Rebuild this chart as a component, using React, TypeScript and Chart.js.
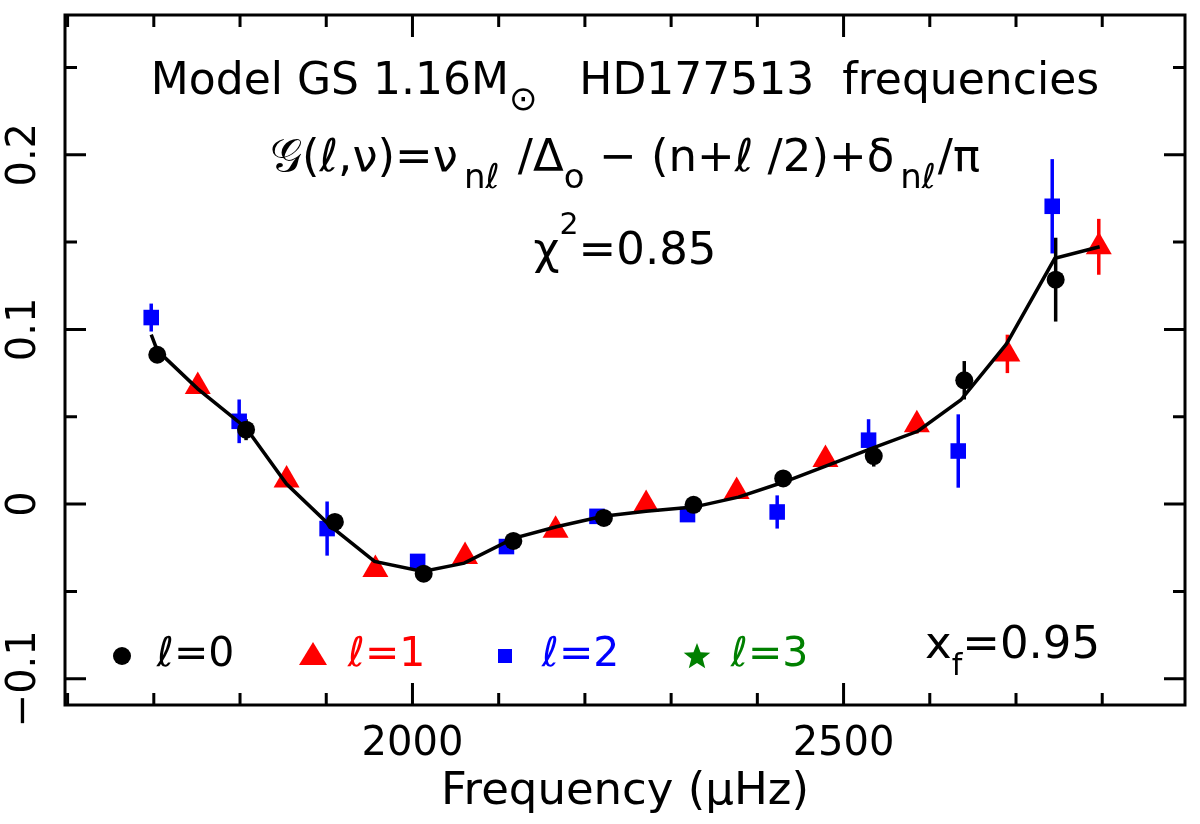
import { useEffect, useRef } from 'react';
import { Chart, registerables } from 'chart.js';

Chart.register(...registerables);

const FONT = '"DejaVu Sans", "DejaVu Serif", sans-serif';

// l = 0 modes (black circles)
const freqL0 = [1704, 1807, 1910, 2013, 2117, 2222, 2326, 2430, 2535, 2640, 2746];
const gL0 = [0.0855, 0.0426, -0.0102, -0.0398, -0.0211, -0.0079, -0.0004, 0.0147, 0.0275, 0.0709, 0.1285];
const errL0 = [0.003, 0.006, 0.004, 0.003, 0.003, 0.003, 0.003, 0.003, 0.006, 0.011, 0.024];

// l = 1 modes (red triangles)
const freqL1 = [1751, 1854, 1957, 2061, 2166, 2271, 2376, 2479, 2585, 2690, 2796];
const gL1 = [0.0673, 0.0138, -0.0375, -0.03, -0.0149, -0.0002, 0.0072, 0.0256, 0.0454, 0.086, 0.1473];
const errL1 = [0.004, 0.003, 0.003, 0.003, 0.003, 0.003, 0.003, 0.004, 0.005, 0.011, 0.016];

// l = 2 modes (blue squares)
const freqL2 = [1697, 1799, 1901, 2006, 2109, 2214, 2319, 2423, 2529, 2633, 2742];
const gL2 = [0.1068, 0.0474, -0.014, -0.0328, -0.0243, -0.007, -0.006, -0.0045, 0.0366, 0.0304, 0.1705];
const errL2 = [0.008, 0.0125, 0.0155, 0.004, 0.003, 0.004, 0.003, 0.0095, 0.012, 0.021, 0.027];

// model curve
const modelFreq = [1697, 1704, 1751, 1807, 1854, 1906, 1956, 2012, 2060, 2117, 2167, 2221, 2271, 2326, 2378, 2430, 2480, 2535, 2586, 2636, 2689, 2745, 2797];
const modelG = [0.097, 0.088, 0.066, 0.0436, 0.0115, -0.013, -0.0328, -0.0385, -0.0338, -0.0196, -0.013, -0.007, -0.0041, -0.0017, 0.004, 0.0125, 0.0219, 0.0323, 0.0417, 0.0596, 0.0917, 0.1407, 0.1473];

// axes
const xLabelTicks = [2000, 2500];
const xMinorTicks = [1600, 1700, 1800, 1900, 2100, 2200, 2300, 2400, 2600, 2700, 2800];
const yLabelTicks = [-0.1, 0, 0.1, 0.2];
const yMinorTicks = [-0.05, 0.05, 0.15, 0.25];

const toPoints = (xs: number[], ys: number[]) => xs.map((x, i) => ({ x, y: ys[i] }));

type Seg = { t: string; size: number; dy?: number; color?: string; gap?: number };

function drawRich(ctx: CanvasRenderingContext2D, segs: Seg[], x0: number, baseline: number, center: boolean) {
  let total = 0;
  segs.forEach((s) => {
    ctx.font = `${s.size}px ${FONT}`;
    total += ctx.measureText(s.t).width + (s.gap ?? 0);
  });
  let x = center ? x0 - total / 2 : x0;
  ctx.textAlign = 'left';
  ctx.textBaseline = 'alphabetic';
  segs.forEach((s) => {
    ctx.font = `${s.size}px ${FONT}`;
    ctx.fillStyle = s.color ?? '#000';
    ctx.fillText(s.t, x, baseline + (s.dy ?? 0));
    x += ctx.measureText(s.t).width + (s.gap ?? 0);
  });
}

const errorBars = {
  id: 'errorBars',
  beforeDatasetsDraw(chart: any) {
    const { ctx, scales: { x, y } } = chart;
    ctx.save();
    chart.data.datasets.forEach((ds: any) => {
      if (!ds.errors) return;
      ctx.strokeStyle = ds.borderColor;
      ctx.lineWidth = 3.5;
      ds.data.forEach((p: any, i: number) => {
        const px = x.getPixelForValue(p.x);
        ctx.beginPath();
        ctx.moveTo(px, y.getPixelForValue(p.y - ds.errors[i]));
        ctx.lineTo(px, y.getPixelForValue(p.y + ds.errors[i]));
        ctx.stroke();
      });
    });
    ctx.restore();
  },
};

const frame = {
  id: 'frame',
  afterDraw(chart: any) {
    const { ctx, chartArea: a, scales: { x, y } } = chart;
    ctx.save();
    ctx.strokeStyle = '#000';
    ctx.lineWidth = 3;
    ctx.strokeRect(a.left, a.top, a.right - a.left, a.bottom - a.top);
    const xt = (v: number, len: number) => {
      const px = x.getPixelForValue(v);
      ctx.moveTo(px, a.bottom);
      ctx.lineTo(px, a.bottom - len);
      ctx.moveTo(px, a.top);
      ctx.lineTo(px, a.top + len);
    };
    const yt = (v: number, len: number) => {
      const py = y.getPixelForValue(v);
      ctx.moveTo(a.left, py);
      ctx.lineTo(a.left + len, py);
      ctx.moveTo(a.right, py);
      ctx.lineTo(a.right - len, py);
    };
    ctx.beginPath();
    xLabelTicks.forEach((v) => xt(v, 22));
    xMinorTicks.forEach((v) => xt(v, 12));
    yLabelTicks.forEach((v) => yt(v, 21));
    yMinorTicks.forEach((v) => yt(v, 12));
    ctx.stroke();
    ctx.restore();
  },
};

const annotations = {
  id: 'annotations',
  afterDraw(chart: any) {
    const { ctx, chartArea: a } = chart;
    const cx = (a.left + a.right) / 2;
    ctx.save();
    drawRich(ctx, [
      { t: 'Model GS 1.16M', size: 44 },
      { t: '\u2299', size: 34, dy: 16 },
      { t: '   HD177513  frequencies', size: 44 },
    ], cx, a.top + 79, true);
    drawRich(ctx, [
      { t: '\u{1D4A2}(\u2113,\u03BD)=\u03BD', size: 45, gap: 6 },
      { t: 'n\u2113', size: 34, dy: 17, gap: 4 },
      { t: ' /\u0394', size: 45 },
      { t: 'o', size: 34, dy: 17 },
      { t: ' \u2212 (n+\u2113 /2)+\u03B4', size: 45, gap: 6 },
      { t: 'n\u2113', size: 34, dy: 17, gap: 2 },
      { t: '/\u03C0', size: 45 },
    ], cx, a.top + 156, true);
    drawRich(ctx, [
      { t: '\u03C7', size: 45 },
      { t: '2', size: 30, dy: -30 },
      { t: '=0.85', size: 45 },
    ], cx, a.top + 249, true);

    // legend row
    const ly = 656;
    ctx.fillStyle = '#000';
    ctx.beginPath();
    ctx.arc(122, ly, 9, 0, Math.PI * 2);
    ctx.fill();
    drawRich(ctx, [{ t: '\u2113=0', size: 41 }], 157, ly + 10, false);

    ctx.fillStyle = '#ff0000';
    ctx.beginPath();
    ctx.moveTo(313, ly - 14);
    ctx.lineTo(327, ly + 9);
    ctx.lineTo(299, ly + 9);
    ctx.closePath();
    ctx.fill();
    drawRich(ctx, [{ t: '\u2113=1', size: 41, color: '#ff0000' }], 348, ly + 10, false);

    ctx.fillStyle = '#0000ff';
    ctx.fillRect(498, ly - 7, 14, 14);
    drawRich(ctx, [{ t: '\u2113=2', size: 41, color: '#0000ff' }], 542, ly + 10, false);

    ctx.fillStyle = '#008000';
    ctx.beginPath();
    for (let i = 0; i < 10; i++) {
      const r = i % 2 === 0 ? 14 : 6;
      const ang = -Math.PI / 2 + (i * Math.PI) / 5;
      const px = 697 + r * Math.cos(ang);
      const py = ly + 1 + r * Math.sin(ang);
      if (i === 0) ctx.moveTo(px, py);
      else ctx.lineTo(px, py);
    }
    ctx.closePath();
    ctx.fill();
    drawRich(ctx, [{ t: '\u2113=3', size: 41, color: '#008000' }], 731, ly + 10, false);

    drawRich(ctx, [
      { t: 'x', size: 45 },
      { t: 'f', size: 30, dy: 17 },
      { t: '=0.95', size: 45 },
    ], 925, 658, false);
    ctx.restore();
  },
};

export default function App() {
  const canvasRef = useRef<HTMLCanvasElement>(null);
  const chartRef = useRef<Chart | null>(null);

  useEffect(() => {
    if (!canvasRef.current) return;
    if (chartRef.current) chartRef.current.destroy();

    chartRef.current = new Chart(canvasRef.current, {
      type: 'scatter',
      data: {
        datasets: [
          {
            type: 'line',
            label: 'model',
            data: toPoints(modelFreq, modelG),
            borderColor: '#000',
            borderWidth: 3.5,
            pointRadius: 0,
            tension: 0,
            fill: false,
          },
          {
            label: 'l=0',
            data: toPoints(freqL0, gL0),
            errors: errL0,
            pointStyle: 'circle',
            pointRadius: 9,
            backgroundColor: '#000',
            borderColor: '#000',
            borderWidth: 0,
          } as any,
          {
            label: 'l=1',
            data: toPoints(freqL1, gL1),
            errors: errL1,
            pointStyle: 'triangle',
            pointRadius: 15,
            backgroundColor: '#ff0000',
            borderColor: '#ff0000',
            borderWidth: 0,
          } as any,
          {
            label: 'l=2',
            data: toPoints(freqL2, gL2),
            errors: errL2,
            pointStyle: 'rect',
            pointRadius: 11,
            backgroundColor: '#0000ff',
            borderColor: '#0000ff',
            borderWidth: 0,
          } as any,
        ],
      },
      options: {
        animation: false,
        responsive: false,
        devicePixelRatio: 1,
        layout: { padding: { left: 0, right: 7, top: 7, bottom: 0 } },
        plugins: {
          legend: { display: false },
          tooltip: { enabled: false },
        },
        scales: {
          x: {
            type: 'linear',
            min: 1597,
            max: 2896,
            grid: { display: false, drawTicks: false },
            border: { display: false },
            afterBuildTicks: (s: any) => {
              s.ticks = xLabelTicks.map((v) => ({ value: v }));
            },
            afterFit: (s: any) => {
              s.height = 119;
              s.paddingLeft = 0;
              s.paddingRight = 0;
            },
            ticks: {
              color: '#000',
              font: { family: FONT, size: 40 },
              padding: 16,
              maxRotation: 0,
              autoSkip: false,
              callback: (v: any) => String(v),
            },
            title: {
              display: true,
              text: 'Frequency (\u03BCHz)',
              color: '#000',
              font: { family: FONT, size: 45 },
              padding: { top: 0, bottom: 5 },
            },
          },
          y: {
            type: 'linear',
            min: -0.115,
            max: 0.28,
            grid: { display: false, drawTicks: false },
            border: { display: false },
            afterBuildTicks: (s: any) => {
              s.ticks = yLabelTicks.map((v) => ({ value: v }));
            },
            afterFit: (s: any) => {
              s.width = 65;
              s.paddingTop = 0;
              s.paddingBottom = 0;
            },
            ticks: {
              color: '#000',
              font: { family: FONT, size: 40 },
              padding: -8,
              minRotation: 90,
              maxRotation: 90,
              crossAlign: 'center',
              autoSkip: false,
              callback: (v: any) => (v === 0 ? '0' : v < 0 ? '\u2212' + String(-v) : String(v)),
            },
          },
        },
      },
      plugins: [errorBars, frame, annotations],
    });

    return () => {
      if (chartRef.current) {
        chartRef.current.destroy();
        chartRef.current = null;
      }
    };
  }, []);

  return (
    <div style={{ position: 'absolute', left: 0, top: 0, width: 1200, height: 824, background: '#fff' }}>
      <canvas ref={canvasRef} width={1200} height={824} />
    </div>
  );
}
